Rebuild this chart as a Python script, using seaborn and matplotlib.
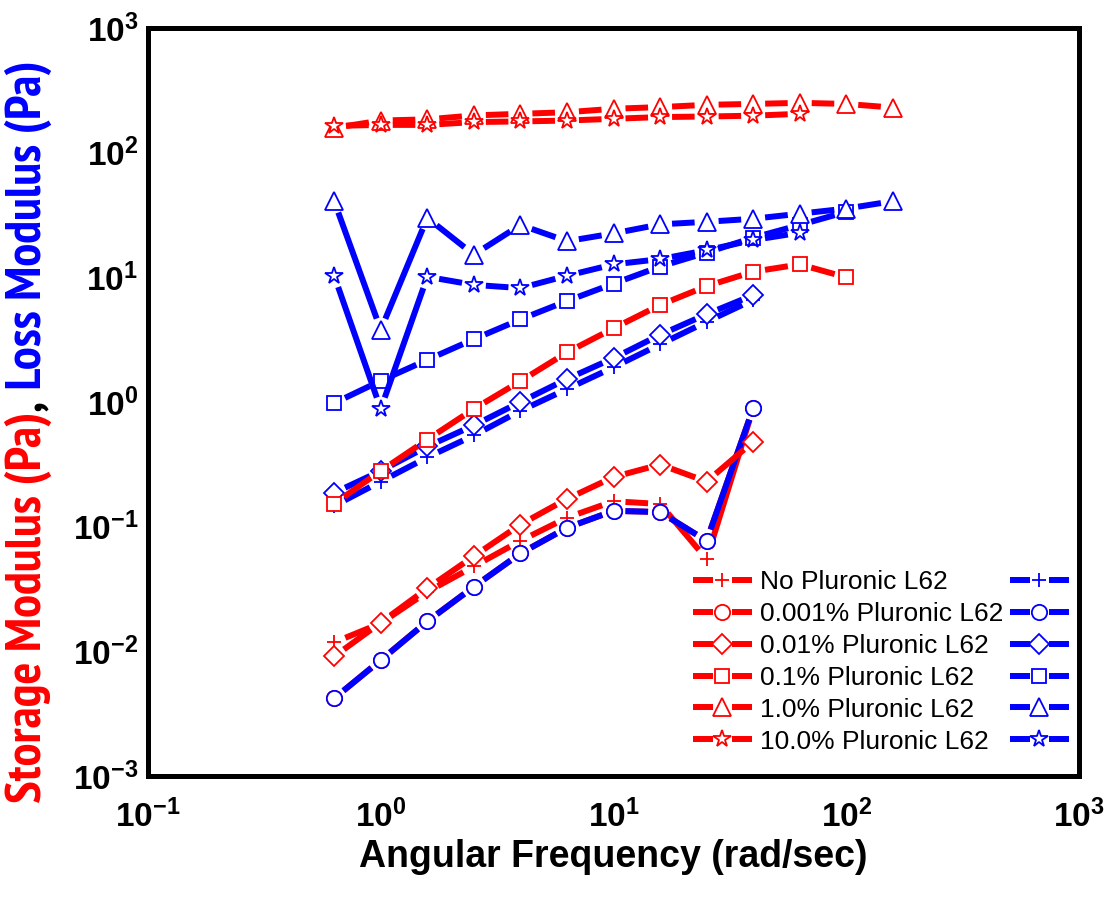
import numpy as np
import matplotlib
matplotlib.use("Agg")
import matplotlib.pyplot as plt
import seaborn as sns
from matplotlib import font_manager
from matplotlib.font_manager import FontProperties
from matplotlib.lines import Line2D
from matplotlib.legend_handler import HandlerBase

# angular frequency (rad/sec)
freq = [0.631, 1.0, 1.585, 2.512, 3.981, 6.31, 10.0, 15.85, 25.12, 39.81, 63.1, 100.0, 158.5]

# storage modulus G' (Pa), red
storage_none = [0.0118, 0.0168, 0.030, 0.048, 0.077, 0.118, 0.160, 0.152, 0.055, 0.89]
storage_0001 = [0.0042, 0.0085, 0.0174, 0.033, 0.061, 0.098, 0.134, 0.131, 0.077, 0.89]
storage_001 = [0.0091, 0.017, 0.032, 0.058, 0.104, 0.167, 0.25, 0.315, 0.23, 0.48]
storage_01 = [0.153, 0.28, 0.50, 0.88, 1.47, 2.5, 3.9, 6.0, 8.5, 11.1, 12.7, 10.0]
storage_1 = [158, 181, 185, 199, 205, 211, 225, 232, 242, 246, 251, 246, 230]
storage_10 = [164, 167, 167, 176, 178, 181, 187, 193, 195, 198, 205]

# loss modulus G'' (Pa), blue
loss_none = [0.147, 0.23, 0.36, 0.54, 0.85, 1.27, 1.9, 2.9, 4.4, 6.6]
loss_0001 = [0.0042, 0.0085, 0.0174, 0.033, 0.061, 0.098, 0.134, 0.131, 0.077, 0.89]
loss_001 = [0.187, 0.28, 0.44, 0.65, 1.0, 1.53, 2.25, 3.46, 5.06, 7.2]
loss_01 = [0.98, 1.48, 2.18, 3.19, 4.6, 6.46, 8.9, 12.2, 15.8, 20.8, 26.3, 33.5]
loss_1 = [40.8, 3.79, 30, 15.2, 26.3, 19.5, 22.5, 26.6, 27.9, 29.5, 32.4, 35.6, 40.8]
loss_10 = [10.3, 0.88, 10.1, 8.7, 8.2, 10.3, 12.7, 14.0, 16.5, 19.9, 22.8]

labels = ["No Pluronic L62", "0.001% Pluronic L62", "0.01% Pluronic L62",
          "0.1% Pluronic L62", "1.0% Pluronic L62", "10.0% Pluronic L62"]
storage = [storage_none, storage_0001, storage_001, storage_01, storage_1, storage_10]
loss = [loss_none, loss_0001, loss_001, loss_01, loss_1, loss_10]

xtick_vals = [0.1, 1, 10, 100, 1000]
xtick_labels = [r"$\mathbf{10^{-1}}$", r"$\mathbf{10^{0}}$", r"$\mathbf{10^{1}}$",
                r"$\mathbf{10^{2}}$", r"$\mathbf{10^{3}}$"]
ytick_vals = [1e-3, 1e-2, 1e-1, 1, 10, 100, 1000]
ytick_labels = [r"$\mathbf{10^{-3}}$", r"$\mathbf{10^{-2}}$", r"$\mathbf{10^{-1}}$",
                r"$\mathbf{10^{0}}$", r"$\mathbf{10^{1}}$", r"$\mathbf{10^{2}}$",
                r"$\mathbf{10^{3}}$"]

# marker look per concentration
markers = ["+", "o", "D", "s", "^", "*"]
msizes = [10, 11, 10, 9.5, 13, 13]

sns.set_style("white")
plt.rcParams["font.family"] = ["Liberation Sans", "DejaVu Sans"]
plt.rcParams["mathtext.fontset"] = "custom"
plt.rcParams["mathtext.rm"] = "Liberation Sans"
plt.rcParams["mathtext.bf"] = "Liberation Sans:bold"
plt.rcParams["text.color"] = "black"
plt.rcParams["xtick.color"] = "black"
plt.rcParams["ytick.color"] = "black"


def narrow_bold_font():
    # look for a condensed bold face (Arial Narrow look-alike) for the y label
    best = None
    for f in font_manager.fontManager.ttflist:
        name = (f.name + " " + f.fname).lower()
        w = f.weight
        bold = w == "bold" or (isinstance(w, int) and w >= 700) or "bold" in f.fname.lower()
        if not bold or "italic" in name or "oblique" in name:
            continue
        if "narrow" in name:
            return f.fname
        if "condensed" in name and best is None:
            best = f.fname
    return best


LW = 4.3
GAP = 12  # px gap between line and symbol (Origin style)

fig = plt.figure(figsize=(11.12, 9.09), dpi=100)
ax = fig.add_axes([148 / 1112, 1 - 776 / 909, (1079 - 148) / 1112, (776 - 28) / 909])
ax.set_xscale("log")
ax.set_yscale("log")
ax.set_xlim(0.1, 1000)
ax.set_ylim(1e-3, 1e3)


def gapped_line(x, y, color, z):
    # line pieces between symbols, cut short by GAP pixels at each end
    pts = ax.transData.transform(np.column_stack([x, y]))
    inv = ax.transData.inverted()
    xs, ys = [], []
    for p, q in zip(pts[:-1], pts[1:]):
        d = q - p
        dist = np.hypot(d[0], d[1])
        if dist <= 2 * GAP:
            continue
        u = d / dist
        a, b = inv.transform([p + u * GAP, q - u * GAP])
        xs += [a[0], b[0], np.nan]
        ys += [a[1], b[1], np.nan]
    ax.plot(xs, ys, color=color, lw=LW, solid_capstyle="butt", zorder=z)


# Origin draws pairwise: storage then loss for each concentration
z = 2.0
for g_vals, l_vals, m, ms in zip(storage, loss, markers, msizes):
    for vals, color in [(g_vals, "red"), (l_vals, "blue")]:
        x = freq[:len(vals)]
        gapped_line(x, vals, color, z)
        sns.lineplot(x=x, y=vals, ax=ax, marker=m, markersize=ms, linestyle="none",
                     markerfacecolor="white", markeredgecolor=color,
                     markeredgewidth=1.3, color=color, zorder=z + 0.005)
        z += 0.01

ax.set_xticks(xtick_vals, labels=xtick_labels)
ax.set_yticks(ytick_vals, labels=ytick_labels)
ax.tick_params(which="both", direction="in", top=False, right=False, width=1.6,
               color="black", labelcolor="black")
ax.tick_params(which="major", length=8, labelsize=24)
ax.tick_params(which="minor", length=5)
ax.tick_params(axis="x", pad=17)
ax.tick_params(axis="y", pad=7)
for s in ax.spines.values():
    s.set_linewidth(3.6)
    s.set_color("black")
ax.set_xlabel("")
ax.set_ylabel("")


class GapHandler(HandlerBase):
    # line - symbol - line, with a gap around the symbol
    def create_artists(self, legend, orig_handle, xdescent, ydescent, width, height,
                       fontsize, trans):
        c = orig_handle.get_color()
        y = height / 2 - ydescent
        seg = width * 0.34
        x0 = -xdescent
        left = Line2D([x0, x0 + seg], [y, y], color=c, lw=LW, solid_capstyle="butt")
        right = Line2D([x0 + width - seg, x0 + width], [y, y], color=c, lw=LW,
                       solid_capstyle="butt")
        mk = Line2D([x0 + width / 2], [y], linestyle="none", marker=orig_handle.get_marker(),
                    markersize=orig_handle.get_markersize(), markerfacecolor="white",
                    markeredgecolor=c, markeredgewidth=1.3)
        for a in (left, right, mk):
            a.set_transform(trans)
        return [left, right, mk]


def handle(color, m, ms):
    return Line2D([0], [0], color=color, marker=m, markersize=ms)


leg_kw = dict(frameon=False, fontsize=19, handlelength=2.23, handletextpad=0.3,
              labelspacing=0.3, borderpad=0, borderaxespad=0, loc="upper left",
              bbox_transform=fig.transFigure, handler_map={Line2D: GapHandler()})
red_h = [handle("red", m, ms) for m, ms in zip(markers, msizes)]
blue_h = [handle("blue", m, ms) for m, ms in zip(markers, msizes)]
leg1 = ax.legend(red_h, labels, bbox_to_anchor=(693 / 1112, 1 - 570 / 909), **leg_kw)
ax.add_artist(leg1)
ax.legend(blue_h, [""] * len(labels), bbox_to_anchor=(1010 / 1112, 1 - 570 / 909), **leg_kw)

fig.text(613 / 1112, 1 - 857 / 909, "Angular Frequency (rad/sec)", ha="center",
         va="center", fontsize=27, fontweight="bold")

# y label in three colours, stacked upward, fitted to the reference length
narrow = narrow_bold_font()
if narrow:
    yprops = dict(fontproperties=FontProperties(fname=narrow))
else:
    yprops = dict(family=["Liberation Sans"], fontweight="bold")
pieces = [("Storage Modulus (Pa)", "red"), (",", "black"), (" Loss Modulus (Pa)", "blue")]
renderer = fig.canvas.get_renderer()
ytexts = [fig.text(28 / 1112, 0, t, rotation=90, ha="center", va="bottom", color=c, **yprops)
          for t, c in pieces]
size = 30
for t in ytexts:
    t.set_fontsize(size)
total = sum(t.get_window_extent(renderer).height for t in ytexts)
size = size * (803 - 60) / total
y0 = 1 - 803 / 909
for t in ytexts:
    t.set_fontsize(size)
    t.set_y(y0)
    y0 += t.get_window_extent(renderer).height / fig.bbox.height

fig.savefig("out.png", dpi=100)
